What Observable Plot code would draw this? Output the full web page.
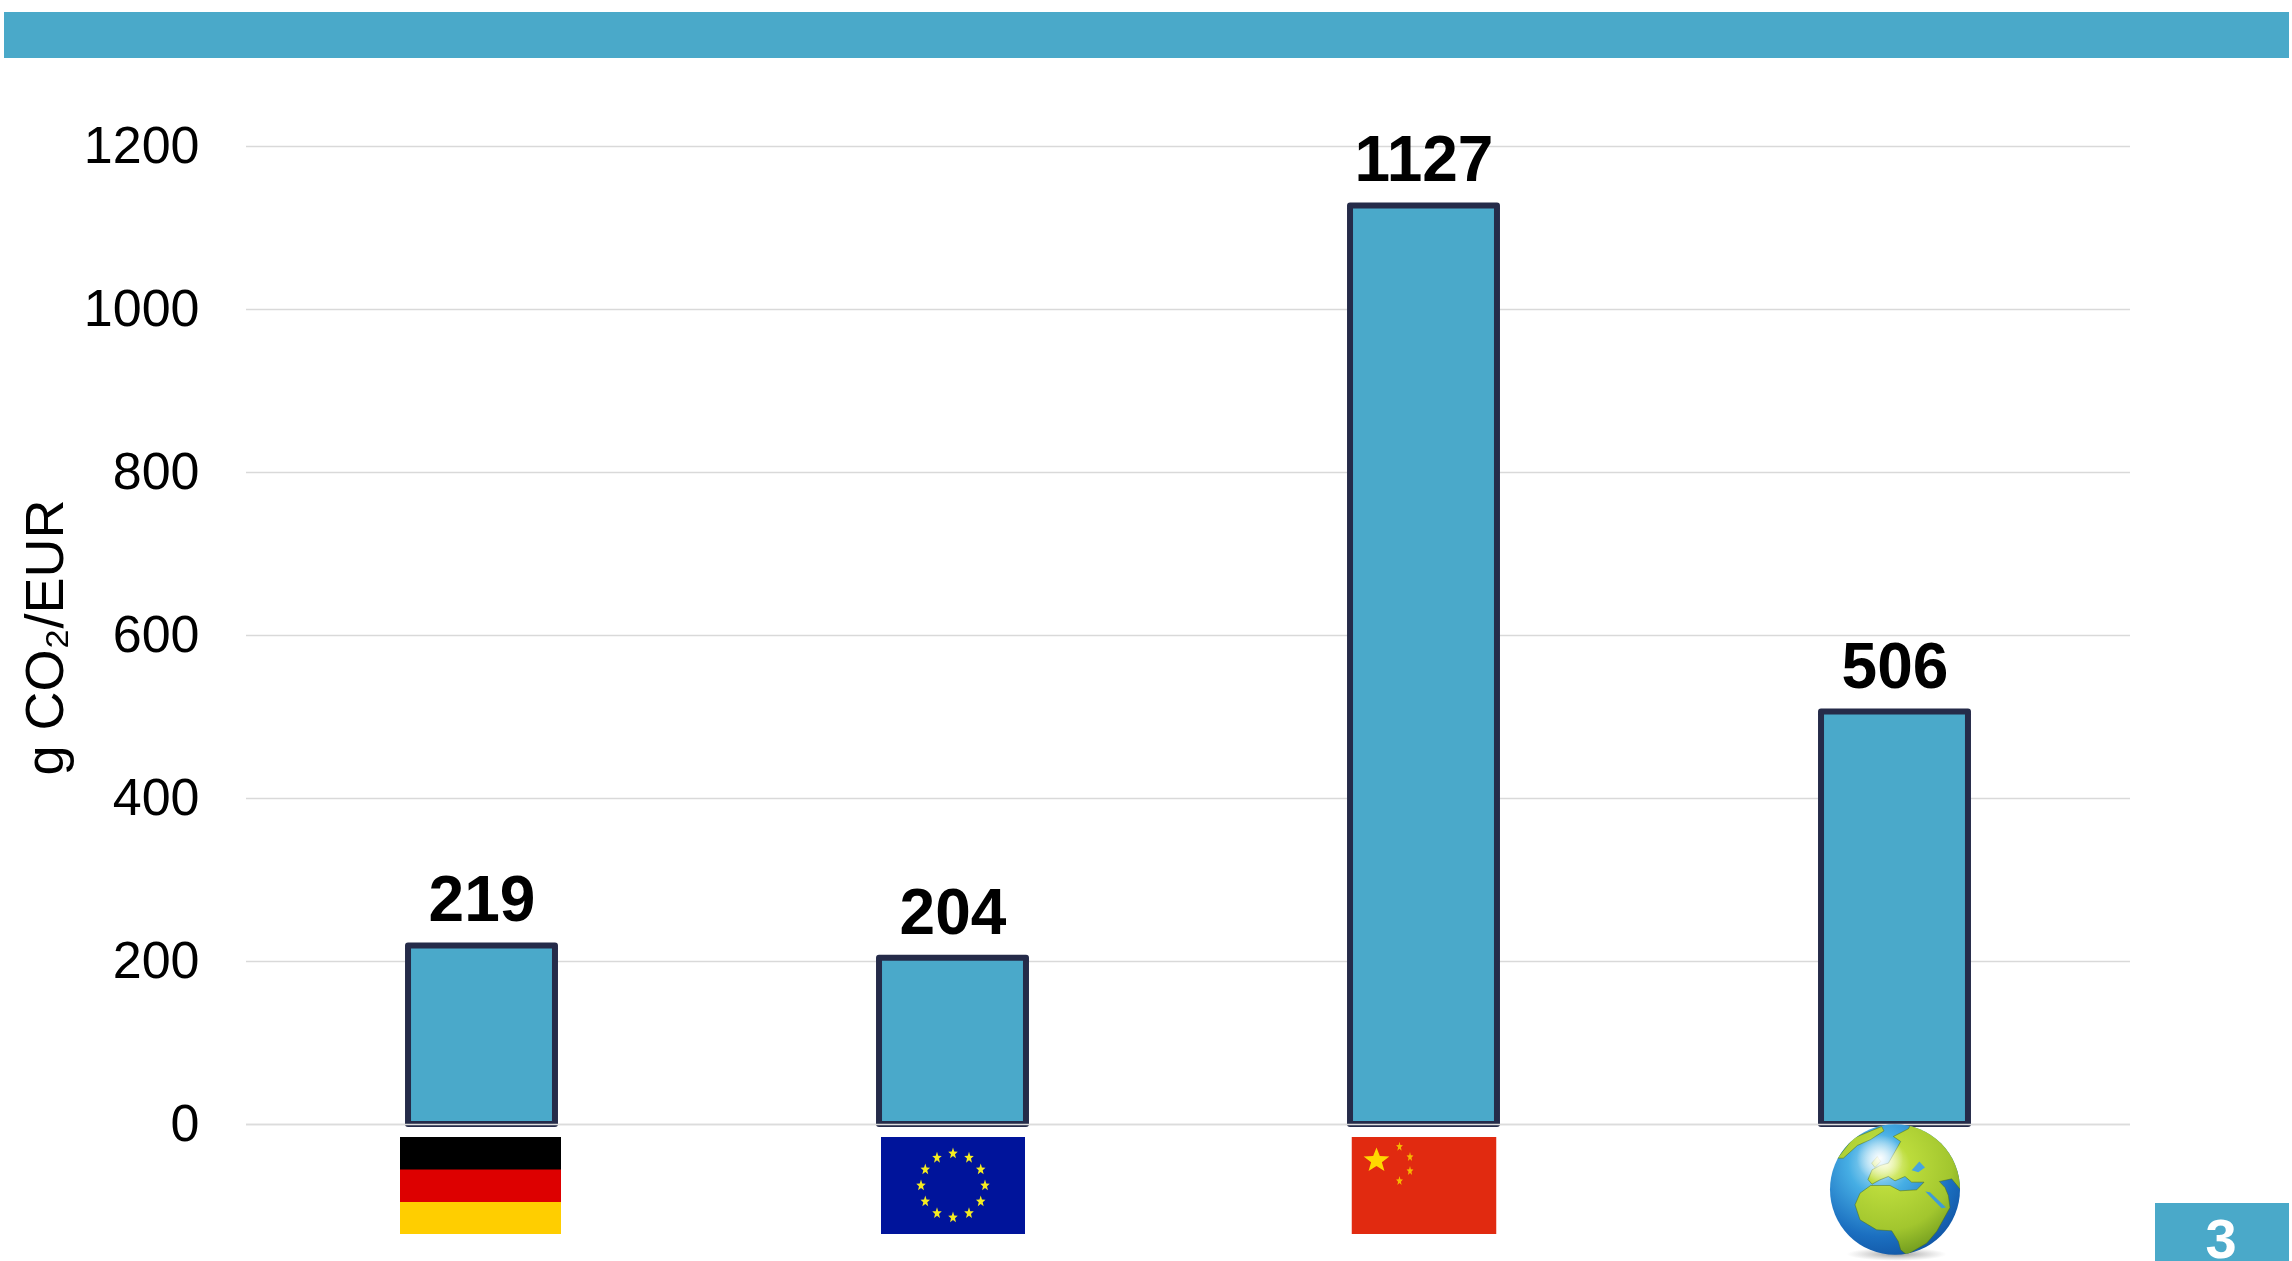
<!DOCTYPE html>
<html>
<head>
<meta charset="utf-8">
<script src="https://cdn.jsdelivr.net/npm/d3@7"></script>
<script src="https://cdn.jsdelivr.net/npm/@observablehq/plot@0.6"></script>
<style>
html,body{margin:0;padding:0;background:#fff;overflow:hidden;width:2292px;height:1261px;font-family:"Liberation Sans",Arial,sans-serif}
#chart{position:absolute;left:0;top:0}
#band{position:absolute;left:4px;top:12px;width:2285px;height:46px;background:#4aa9c9}
#page{position:absolute;left:2155px;top:1203px;width:132px;height:58px;padding-right:2px;background:#4aa9c9;color:#fff;font-weight:700;font-size:56px;line-height:72px;text-align:center}
</style>
</head>
<body>
<div id="band"></div>
<div id="chart"></div>
<div id="page">3</div>
<script>
const regions = ["Germany", "EU", "China", "World"];
const intensity = [219, 204, 1127, 506];
const yTicks = [0, 200, 400, 600, 800, 1000, 1200];
const yLabel = "g CO₂/EUR";

const table = regions.map((region, i) => ({region, value: intensity[i]}));

function uri(svg) { return "data:image/svg+xml," + encodeURIComponent(svg); }
function star(cx, cy, rx, ry, fill) {
  const pts = [];
  for (let k = 0; k < 10; k++) {
    const a = -Math.PI / 2 + k * Math.PI / 5, f = k % 2 ? 0.42 : 1;
    pts.push((cx + rx * f * Math.cos(a)).toFixed(2) + "," + (cy + ry * f * Math.sin(a)).toFixed(2));
  }
  return `<polygon points="${pts.join(" ")}" fill="${fill}"/>`;
}
const germanyFlag = uri(`<svg xmlns="http://www.w3.org/2000/svg" width="161" height="97" viewBox="0 0 161 97" preserveAspectRatio="none"><rect width="161" height="33" fill="#000"/><rect y="32.5" width="161" height="33" fill="#dd0000"/><rect y="65" width="161" height="32" fill="#ffce00"/></svg>`);
let euStars = "";
for (let k = 0; k < 12; k++) {
  const a = k * Math.PI / 6;
  euStars += star(72 + 32 * Math.sin(a), 48.5 - 32 * Math.cos(a), 5, 6, "#f5ec20");
}
const euFlag = uri(`<svg xmlns="http://www.w3.org/2000/svg" width="144" height="97" viewBox="0 0 144 97" preserveAspectRatio="none"><rect width="144" height="97" fill="#00149b"/>${euStars}</svg>`);
const chinaFlag = uri(`<svg xmlns="http://www.w3.org/2000/svg" width="145" height="97" viewBox="0 0 145 97" preserveAspectRatio="none"><rect width="145" height="97" fill="#e12a10"/>${star(25,23.5,13.5,13,"#ffd800")}${star(48,9.7,3.6,5,"#f5b800")}${star(58.5,20,3.6,5,"#f5b800")}${star(58.5,34,3.6,5,"#f5b800")}${star(48,44,3.6,5,"#f5b800")}</svg>`);
const globe = uri(`<svg xmlns="http://www.w3.org/2000/svg" width="420" height="420" viewBox="135 40 420 420">
<defs>
<radialGradient id="sea" cx="0.38" cy="0.3" r="0.8"><stop offset="0" stop-color="#bfe8f7"/><stop offset="0.3" stop-color="#46aee4"/><stop offset="0.7" stop-color="#1b6fc0"/><stop offset="1" stop-color="#0f4f9e"/></radialGradient>
<radialGradient id="land" gradientUnits="userSpaceOnUse" cx="320" cy="170" r="280"><stop offset="0" stop-color="#eef8a8"/><stop offset="0.25" stop-color="#bcdc3c"/><stop offset="0.7" stop-color="#a2c62e"/><stop offset="1" stop-color="#6f9a1e"/></radialGradient>
<radialGradient id="glow" gradientUnits="userSpaceOnUse" cx="300" cy="150" r="70"><stop offset="0" stop-color="#fff" stop-opacity="0.95"/><stop offset="1" stop-color="#fff" stop-opacity="0"/></radialGradient>
<radialGradient id="shadow" cx="0.5" cy="0.5" r="0.5"><stop offset="0" stop-color="#555" stop-opacity="0.6"/><stop offset="1" stop-color="#888" stop-opacity="0"/></radialGradient>
<clipPath id="disc"><ellipse cx="345" cy="244" rx="195" ry="196"/></clipPath>
</defs>
<ellipse cx="350" cy="438" rx="150" ry="20" fill="url(#shadow)"/>
<ellipse cx="345" cy="244" rx="195" ry="196" fill="url(#sea)"/>
<g clip-path="url(#disc)" stroke="#4d6a18" stroke-width="1.5" fill="url(#land)">
<path d="M395,45 L560,120 L560,250 L542,245 L515,212 L478,220 L495,238 L505,262 L510,298 L470,370 L440,405 L380,440 L362,425 L355,400 L335,368 L290,365 L240,335 L225,290 L240,255 L272,232 L330,232 L360,248 L410,245 L432,222 L395,222 L375,205 L345,218 L325,205 L300,215 L276,228 L264,214 L276,185 L300,172 L325,165 L345,130 L362,100 L340,85 L385,62 Z"/>
<path d="M172,150 L220,90 L305,55 L312,68 L272,94 L232,112 L190,150 Z"/>
<path d="M275,165 L292,145 L302,160 L285,178 Z"/>
</g>
<g clip-path="url(#disc)">
<path d="M395,186 L418,160 L435,178 L415,192 Z" fill="#46a5e0"/>
<path d="M436,250 L450,252 L498,298 L485,300 Z" fill="#3f9bd8"/>
<ellipse cx="300" cy="150" rx="70" ry="70" fill="url(#glow)"/>
</g>
</svg>`);

const chart = Plot.plot({
  width: 2292,
  height: 1261,
  marginTop: 146,
  marginBottom: 137,
  marginLeft: 246,
  marginRight: 162,
  style: {fontFamily: '"Liberation Sans",Arial,sans-serif', background: "transparent", overflow: "visible"},
  x: {domain: regions, paddingInner: 0.688, paddingOuter: 0.344, align: 0.5, axis: null, round: false},
  y: {domain: [0, 1200], axis: null},
  marks: [
    Plot.ruleY(yTicks, {y: d => d, stroke: "#d9d9d9", strokeWidth: 1.6}),
    Plot.barY(table, {x: "region", y: "value", fill: "#4aa9ca", stroke: "#252b49", strokeWidth: 6, strokeLinejoin: "round"}),
    Plot.ruleY([0], {stroke: "#dcdcdc", strokeWidth: 1.6}),
    Plot.text(yTicks, {y: d => d, text: d => String(d), frameAnchor: "left", dx: -47, textAnchor: "end", fontSize: 52, fill: "#000", lineAnchor: "middle"}),
    Plot.text(table, {x: "region", y: "value", text: d => String(d.value), dy: -45, fontSize: 64, fontWeight: 700, fill: "#000", lineAnchor: "middle"}),
    Plot.text([yLabel], {text: d => d, frameAnchor: "left", dx: -184, rotate: -90, fontSize: 54, fill: "#000", lineAnchor: "bottom", dy: 140}),
    Plot.image([regions[0]], {x: d => d, y: () => 0, src: () => germanyFlag, width: 161, height: 97, dx: -1.5, dy: 61, preserveAspectRatio: "none"}),
    Plot.image([regions[1]], {x: d => d, y: () => 0, src: () => euFlag, width: 144, height: 97, dy: 61, preserveAspectRatio: "none"}),
    Plot.image([regions[2]], {x: d => d, y: () => 0, src: () => chinaFlag, width: 145, height: 97, dy: 61, preserveAspectRatio: "none"}),
    Plot.image([regions[3]], {x: d => d, y: () => 0, src: () => globe, width: 140, height: 140, dy: 67, preserveAspectRatio: "none"})
  ]
});
document.getElementById("chart").appendChild(chart);
</script>
</body>
</html>
